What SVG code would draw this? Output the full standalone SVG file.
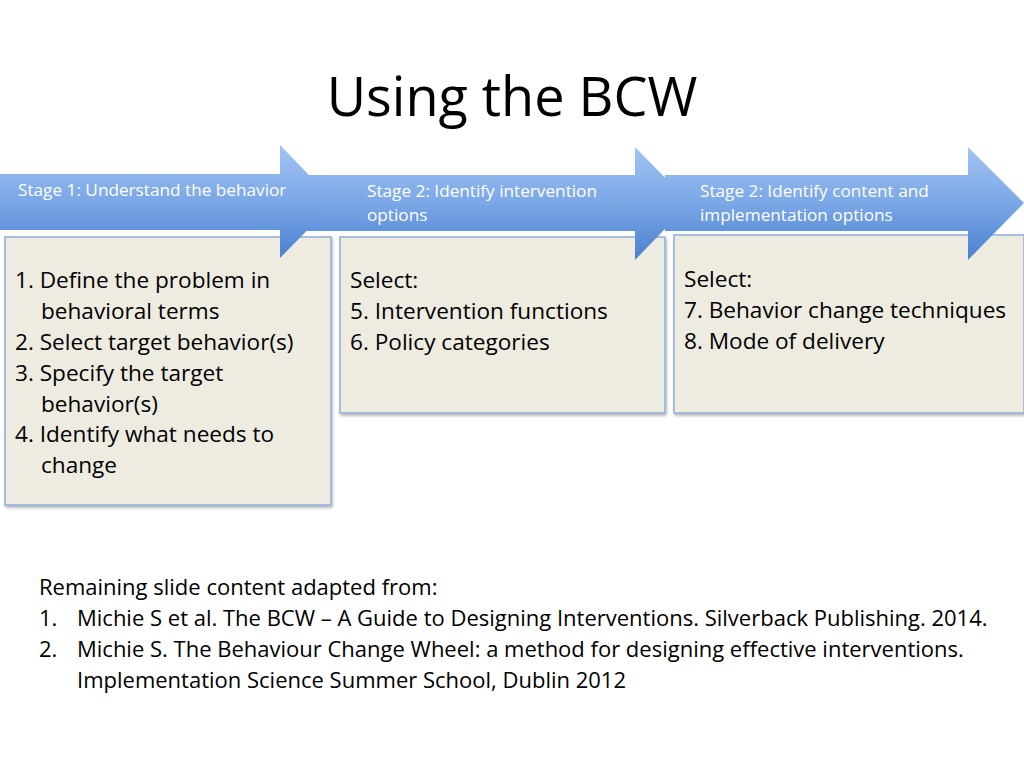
<svg xmlns="http://www.w3.org/2000/svg" width="1024" height="768" viewBox="0 0 1024 768">
<defs>
<linearGradient id="g" x1="0" y1="0" x2="0" y2="1"><stop offset="0" stop-color="#a3c4f3"/><stop offset="0.5" stop-color="#7aa7e6"/><stop offset="1" stop-color="#4b7fcf"/></linearGradient>
<filter id="sh" x="-5%" y="-5%" width="110%" height="115%"><feDropShadow dx="1" dy="2" stdDeviation="1.5" flood-color="#000" flood-opacity="0.3"/></filter>
</defs>
<style>
.box{fill:#eeece1;stroke:#8eaed8;stroke-width:1.5;filter:url(#sh)}
.arr{fill:url(#g)}
.st{font-family:"Open Sans","Liberation Sans",sans-serif;font-size:17.2px;fill:#fff}
.bt{font-family:"Open Sans","Liberation Sans",sans-serif;font-size:22.6px;fill:#000}
.ft{font-family:"Open Sans","Liberation Sans",sans-serif;font-size:22px;fill:#000}
</style>
<rect width="1024" height="768" fill="#fff"/>
<text x="512" y="116" text-anchor="middle" font-family="'Open Sans','Liberation Sans',sans-serif" font-size="54" fill="#000">Using the BCW</text>
<g id="box1"><rect class="box" x="5" y="237" width="326" height="268"/>
<text class="bt" x="15" y="288">1. Define the problem in</text>
<text class="bt" x="41" y="319">behavioral terms</text>
<text class="bt" x="15" y="350">2. Select target behavior(s)</text>
<text class="bt" x="15" y="381">3. Specify the target</text>
<text class="bt" x="41" y="412">behavior(s)</text>
<text class="bt" x="15" y="442">4. Identify what needs to</text>
<text class="bt" x="41" y="473">change</text></g>
<g id="box2"><rect class="box" x="340" y="237" width="325" height="176"/>
<text class="bt" x="350" y="288">Select:</text>
<text class="bt" x="350" y="319">5. Intervention functions</text>
<text class="bt" x="350" y="350">6. Policy categories</text></g>
<g id="box3"><rect class="box" x="674" y="235" width="350" height="178"/>
<text class="bt" x="684" y="287">Select:</text>
<text class="bt" x="684" y="318">7. Behavior change techniques</text>
<text class="bt" x="684" y="349">8. Mode of delivery</text></g>
<g id="connectors">
<path class="arr" d="M665 175H968V147L1024 203L968 260V231H665Z"/>
<path class="arr" d="M305 175H635V147L690 203L635 260V231H305Z"/>
<path class="arr" d="M0 174H280V145L335 202L280 258V230H0Z"/>
<text class="st" x="18" y="196">Stage 1: Understand the behavior</text>
<text class="st" x="367" y="197">Stage 2: Identify intervention</text>
<text class="st" x="367" y="221">options</text>
<text class="st" x="700" y="197">Stage 2: Identify content and</text>
<text class="st" x="700" y="221">implementation options</text>
</g>
<g id="footer">
<text class="ft" x="39" y="595">Remaining slide content adapted from:</text>
<text class="ft" x="39" y="626">1.</text><text class="ft" x="77" y="626">Michie S et al. The BCW – A Guide to Designing Interventions. Silverback Publishing. 2014.</text>
<text class="ft" x="39" y="657">2.</text><text class="ft" x="77" y="657">Michie S. The Behaviour Change Wheel: a method for designing effective interventions.</text>
<text class="ft" x="77" y="688">Implementation Science Summer School, Dublin 2012</text>
</g>
</svg>
